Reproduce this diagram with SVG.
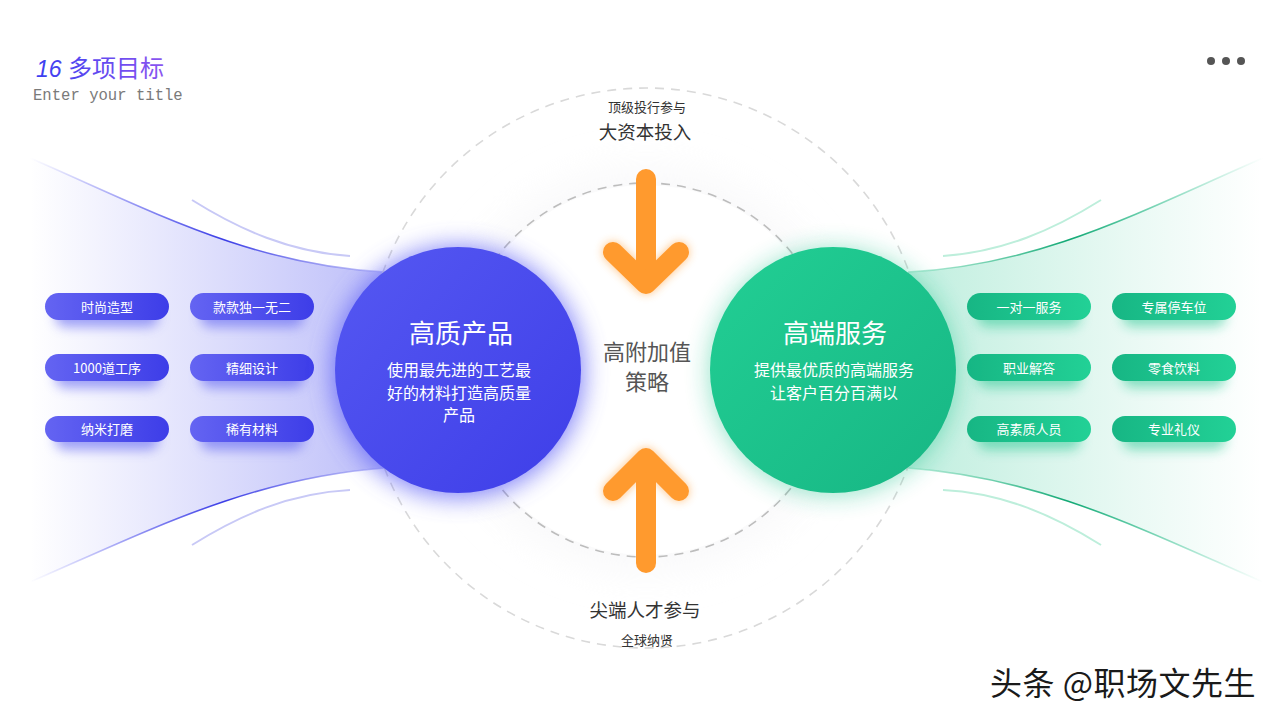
<svg xmlns="http://www.w3.org/2000/svg" width="1280" height="720" viewBox="0 0 1280 720">
<defs>
<style>
.cjk{font-family:"Noto Sans CJK SC","Noto Sans",sans-serif}
.pill-t{font-family:"Noto Sans CJK SC",sans-serif;font-size:13px;fill:#fff;text-anchor:middle}
.lbl{font-family:"Noto Sans CJK SC",sans-serif;fill:#333;text-anchor:middle}
.arrow{stroke:#FF9A2E;stroke-width:20;stroke-linecap:round;stroke-linejoin:round;fill:none}
</style>
<linearGradient id="fanB" x1="30" y1="0" x2="383" y2="0" gradientUnits="userSpaceOnUse">
<stop offset="0" stop-color="#5356F0" stop-opacity="0"/>
<stop offset="0.35" stop-color="#5356F0" stop-opacity="0.13"/>
<stop offset="1" stop-color="#5356F0" stop-opacity="0.38"/>
</linearGradient>
<linearGradient id="edgeB" x1="30" y1="0" x2="383" y2="0" gradientUnits="userSpaceOnUse">
<stop offset="0" stop-color="#4a4cf0" stop-opacity="0"/>
<stop offset="0.55" stop-color="#3b3de6" stop-opacity="1"/>
<stop offset="1" stop-color="#9a9cf2" stop-opacity="0.5"/>
</linearGradient>
<linearGradient id="fanG" x1="1263" y1="0" x2="910" y2="0" gradientUnits="userSpaceOnUse">
<stop offset="0" stop-color="#1fc48c" stop-opacity="0"/>
<stop offset="0.35" stop-color="#1fc48c" stop-opacity="0.09"/>
<stop offset="1" stop-color="#1fc48c" stop-opacity="0.28"/>
</linearGradient>
<linearGradient id="edgeG" x1="1263" y1="0" x2="910" y2="0" gradientUnits="userSpaceOnUse">
<stop offset="0" stop-color="#1fc48c" stop-opacity="0"/>
<stop offset="0.55" stop-color="#11a874" stop-opacity="1"/>
<stop offset="1" stop-color="#7fdcb9" stop-opacity="0.5"/>
</linearGradient>
<linearGradient id="cirB" x1="0" y1="0" x2="1" y2="1">
<stop offset="0" stop-color="#5558F2"/>
<stop offset="1" stop-color="#3E3EE8"/>
</linearGradient>
<linearGradient id="cirG" x1="0" y1="0" x2="1" y2="1">
<stop offset="0" stop-color="#22CF94"/>
<stop offset="1" stop-color="#17B684"/>
</linearGradient>
<linearGradient id="pillB" x1="0" y1="0" x2="1" y2="0">
<stop offset="0" stop-color="#6464F2"/>
<stop offset="1" stop-color="#3D3DE8"/>
</linearGradient>
<linearGradient id="pillG" x1="0" y1="0" x2="1" y2="0">
<stop offset="0" stop-color="#17B684"/>
<stop offset="1" stop-color="#22D196"/>
</linearGradient>
<linearGradient id="titleG" x1="0" y1="0" x2="1" y2="0">
<stop offset="0" stop-color="#3a3ef0"/>
<stop offset="1" stop-color="#8a55f0"/>
</linearGradient>
<filter id="blur12" x="-50%" y="-50%" width="200%" height="200%"><feGaussianBlur stdDeviation="12"/></filter>
<filter id="blur6" x="-50%" y="-100%" width="200%" height="300%"><feGaussianBlur stdDeviation="6"/></filter>
<filter id="blur20" x="-50%" y="-50%" width="200%" height="200%"><feGaussianBlur stdDeviation="20"/></filter>
<filter id="oglow" x="-100%" y="-50%" width="300%" height="200%"><feGaussianBlur stdDeviation="5"/></filter>
</defs>
<rect width="1280" height="720" fill="#fff"/>

<!-- title -->
<g id="title">
<text x="36" y="77" font-family="Liberation Sans,sans-serif" font-style="italic" font-size="23" fill="url(#titleG)">16 <tspan class="cjk" font-style="normal" font-size="24">多项目标</tspan></text>
<text x="33" y="100" font-family="Liberation Mono,DejaVu Sans Mono,monospace" font-size="15.6" fill="#7a7a7a">Enter your title</text>
</g>
<g id="menu-dots" fill="#555">
<circle cx="1211" cy="61" r="4"/><circle cx="1226" cy="61" r="4"/><circle cx="1241" cy="61" r="4"/>
</g>

<!-- fans -->
<g id="fan-left">
<path d="M30,158 C150,210 250,265 385,272 L385,468 C250,478 150,530 30,582 Z" fill="url(#fanB)"/>
<path d="M30,158 C150,210 250,265 385,272" fill="none" stroke="url(#edgeB)" stroke-width="1.6"/>
<path d="M30,582 C150,530 250,478 385,468" fill="none" stroke="url(#edgeB)" stroke-width="1.6"/>
<path d="M192,200 C240,230 290,252 350,256" fill="none" stroke="#c8c9f6" stroke-width="2"/>
<path d="M192,545 C240,515 290,493 350,490" fill="none" stroke="#c8c9f6" stroke-width="2"/>
</g>
<g id="fan-right">
<path d="M1263,158 C1143,210 1043,265 908,272 L908,468 C1043,478 1143,530 1263,582 Z" fill="url(#fanG)"/>
<path d="M1263,158 C1143,210 1043,265 908,272" fill="none" stroke="url(#edgeG)" stroke-width="1.6"/>
<path d="M1263,582 C1143,530 1043,478 908,468" fill="none" stroke="url(#edgeG)" stroke-width="1.6"/>
<path d="M1101,200 C1053,230 1003,252 943,256" fill="none" stroke="#bdeedb" stroke-width="2"/>
<path d="M1101,545 C1053,515 1003,493 943,490" fill="none" stroke="#bdeedb" stroke-width="2"/>
</g>

<!-- dashed rings -->
<g id="rings" fill="none" stroke-dasharray="9 7" stroke-width="1.6">
<circle cx="646" cy="370" r="200" fill="#f4f4f6" stroke="none" filter="url(#blur20)" opacity="0.6"/>
<circle cx="646" cy="370" r="185" fill="#fff" stroke="none"/>
<circle cx="646" cy="368" r="280" stroke="#d9d9d9"/>
<circle cx="646" cy="370" r="187" stroke="#bdbdbd"/>
</g>

<!-- pills -->
<g id="pills-left">
<g fill="#5558f0" opacity="0.55" filter="url(#blur6)">
<rect x="55" y="305" width="104" height="22" rx="11"/><rect x="200" y="305" width="104" height="22" rx="11"/>
<rect x="55" y="366" width="104" height="22" rx="11"/><rect x="200" y="366" width="104" height="22" rx="11"/>
<rect x="55" y="428" width="104" height="22" rx="11"/><rect x="200" y="428" width="104" height="22" rx="11"/>
</g>
<g fill="url(#pillB)">
<rect x="45" y="293" width="124" height="27" rx="13.5"/><rect x="190" y="293" width="124" height="27" rx="13.5"/>
<rect x="45" y="354" width="124" height="27" rx="13.5"/><rect x="190" y="354" width="124" height="27" rx="13.5"/>
<rect x="45" y="416" width="124" height="26" rx="13"/><rect x="190" y="416" width="124" height="26" rx="13"/>
</g>
<text class="pill-t" x="107" y="311.5">时尚造型</text>
<text class="pill-t" x="252" y="311.5">款款独一无二</text>
<text class="pill-t" x="107" y="372.5">1000道工序</text>
<text class="pill-t" x="252" y="372.5">精细设计</text>
<text class="pill-t" x="107" y="433.5">纳米打磨</text>
<text class="pill-t" x="252" y="433.5">稀有材料</text>
</g>
<g id="pills-right">
<g fill="#1fc48c" opacity="0.5" filter="url(#blur6)">
<rect x="977" y="305" width="104" height="22" rx="11"/><rect x="1122" y="305" width="104" height="22" rx="11"/>
<rect x="977" y="366" width="104" height="22" rx="11"/><rect x="1122" y="366" width="104" height="22" rx="11"/>
<rect x="977" y="428" width="104" height="22" rx="11"/><rect x="1122" y="428" width="104" height="22" rx="11"/>
</g>
<g fill="url(#pillG)">
<rect x="967" y="293" width="124" height="27" rx="13.5"/><rect x="1112" y="293" width="124" height="27" rx="13.5"/>
<rect x="967" y="354" width="124" height="27" rx="13.5"/><rect x="1112" y="354" width="124" height="27" rx="13.5"/>
<rect x="967" y="416" width="124" height="26" rx="13"/><rect x="1112" y="416" width="124" height="26" rx="13"/>
</g>
<text class="pill-t" x="1029" y="311.5">一对一服务</text>
<text class="pill-t" x="1174" y="311.5">专属停车位</text>
<text class="pill-t" x="1029" y="372.5">职业解答</text>
<text class="pill-t" x="1174" y="372.5">零食饮料</text>
<text class="pill-t" x="1029" y="433.5">高素质人员</text>
<text class="pill-t" x="1174" y="433.5">专业礼仪</text>
</g>

<!-- main circles -->
<g id="node-product">
<circle cx="458" cy="372" r="126" fill="#5a5cf6" opacity="0.75" filter="url(#blur12)"/>
<circle cx="458" cy="370" r="123" fill="url(#cirB)"/>
<text x="461" y="343" class="cjk" font-size="26" fill="#fff" text-anchor="middle">高质产品</text>
<g class="cjk" font-size="16" fill="#fff" text-anchor="middle">
<text x="459" y="376">使用最先进的工艺最</text>
<text x="459" y="399">好的材料打造高质量</text>
<text x="459" y="421">产品</text>
</g>
</g>
<g id="node-service">
<circle cx="833" cy="372" r="124" fill="#1fc48c" opacity="0.45" filter="url(#blur12)"/>
<circle cx="833" cy="370" r="123" fill="url(#cirG)"/>
<text x="835" y="343" class="cjk" font-size="26" fill="#fff" text-anchor="middle">高端服务</text>
<g class="cjk" font-size="16" fill="#fff" text-anchor="middle">
<text x="834" y="376">提供最优质的高端服务</text>
<text x="834" y="399">让客户百分百满以</text>
</g>
</g>

<!-- center -->
<g id="node-center" class="cjk" font-size="22" fill="#555" text-anchor="middle">
<text x="647" y="360">高附加值</text>
<text x="647" y="390">策略</text>
</g>
<g id="label-top">
<text class="lbl" x="647" y="112" font-size="13">顶级投行参与</text>
<text class="lbl" x="645" y="139" font-size="18.5">大资本投入</text>
</g>
<g id="label-bottom">
<text class="lbl" x="645" y="617" font-size="18.5">尖端人才参与</text>
<text class="lbl" x="647" y="645" font-size="13">全球纳贤</text>
</g>

<!-- connectors: orange arrows -->
<g id="connectors">
<g opacity="0.6" filter="url(#oglow)" stroke="#FF9A2E" stroke-width="20" stroke-linecap="round" stroke-linejoin="round" fill="none">
<path d="M613,252 L646,284 L679,252"/>
<path d="M613,491 L646,458 L679,491"/>
</g>
<path class="arrow" d="M646,179 L646,282"/>
<path class="arrow" d="M613,252 L646,284 L679,252"/>
<path class="arrow" d="M646,563 L646,460"/>
<path class="arrow" d="M613,491 L646,458 L679,491"/>
</g>

<!-- watermark -->
<g id="watermark">
<text x="990" y="695" class="cjk" font-size="32" letter-spacing="0.5" fill="#1a1a1a" stroke="#fff" stroke-width="0.6" paint-order="stroke">头条 @职场文先生</text>
</g>
</svg>
